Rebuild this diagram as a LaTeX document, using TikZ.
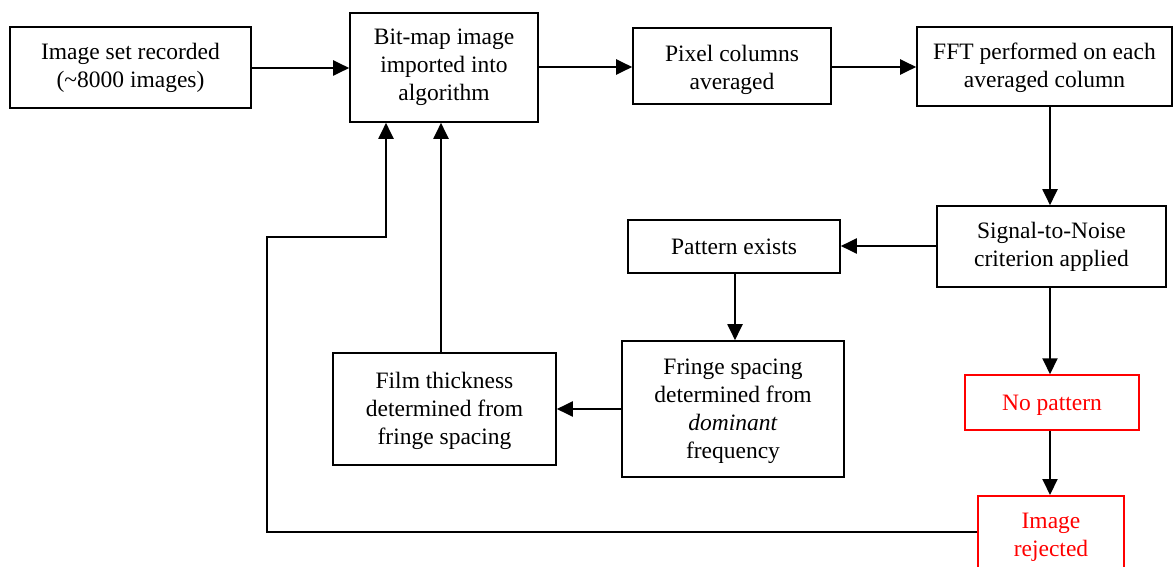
\documentclass[tikz,border=0pt]{standalone}
\usepackage{fontspec}
\setmainfont{Liberation Serif}
\usetikzlibrary{arrows.meta}
\tikzset{
  box/.style={draw=black, line width=1.6pt, align=center, inner sep=0pt,
    font=\fontsize{23.5}{28}\selectfont},
  redbox/.style={box, draw=red, text=red, line width=1.5pt},
  txt/.style={align=center, inner sep=0pt, font=\fontsize{23.5}{28}\selectfont},
  arr/.style={line width=2pt, -{Triangle[length=16pt,width=15pt]}},
  ln/.style={line width=2pt}
}
\begin{document}
\begin{tikzpicture}[x=1pt,y=-1pt]
\useasboundingbox (0,0) rectangle (1176,567);
\fill[white] (0,0) rectangle (1176,567);
\node[box, minimum width=241pt, minimum height=81pt] (rec) at (130.5,67.5) {Image set recorded\\(\char`~8000 images)};
\node[box, minimum width=188pt, minimum height=109pt] (bmp) at (444,67.5) {Bit-map image\\imported into\\algorithm};
\node[box, minimum width=198pt, minimum height=76pt] (pix) at (732,66) {};
\node[txt] (pixt) at (732,70) {Pixel columns\\averaged};
\node[box, minimum width=255pt, minimum height=79pt] (fft) at (1044.5,66.5) {};
\node[txt] (fftt) at (1044.5,67.5) {FFT performed on each\\averaged column};
\node[box, minimum width=229pt, minimum height=81pt] (snr) at (1051.5,246.5) {Signal-to-Noise\\criterion applied};
\node[box, minimum width=212pt, minimum height=53pt] (pat) at (734,246.5) {Pattern exists};
\node[box, minimum width=222pt, minimum height=136pt] (fri) at (733,409) {};
\node[txt] (frit) at (733,411) {Fringe spacing\\determined from\\\textit{dominant}\\frequency};
\node[box, minimum width=223pt, minimum height=112pt] (film) at (444.5,409) {};
\node[txt] (filmt) at (444.5,411) {Film thickness\\determined from\\fringe spacing};
\node[redbox, minimum width=174pt, minimum height=55pt] (nop) at (1052,402.5) {};
\node[txt, text=red] (nopt) at (1052,405) {No pattern};
\node[redbox, minimum width=146pt, minimum height=110pt, anchor=north] (rej) at (1051,495) {};
\node[txt, text=red] (rejt) at (1051,537) {Image\\rejected};
\coordinate (c1) at (267,237);
\draw[arr] (rec.east |- 0,68) -- (bmp.west |- 0,68);
\draw[arr] (bmp.east |- 0,67) -- (pix.west |- 0,67);
\draw[arr] (pix.east |- 0,67) -- (fft.west |- 0,67);
\draw[arr] (fft.south -| 1050,0) -- (snr.north -| 1050,0);
\draw[arr] (snr.west |- 0,246) -- (pat.east |- 0,246);
\draw[arr] (pat.south -| 735,0) -- (fri.north -| 735,0);
\draw[arr] (fri.west |- 0,409) -- (film.east |- 0,409);
\draw[arr] (film.north -| 441,0) -- (bmp.south -| 441,0);
\draw[arr] (snr.south -| 1050,0) -- (nop.north -| 1050,0);
\draw[arr] (nop.south -| 1050,0) -- (rej.north -| 1050,0);
\draw[arr] (rej.west |- 0,532) -| (c1) -| (bmp.south -| 386,0);
\end{tikzpicture}
\end{document}
